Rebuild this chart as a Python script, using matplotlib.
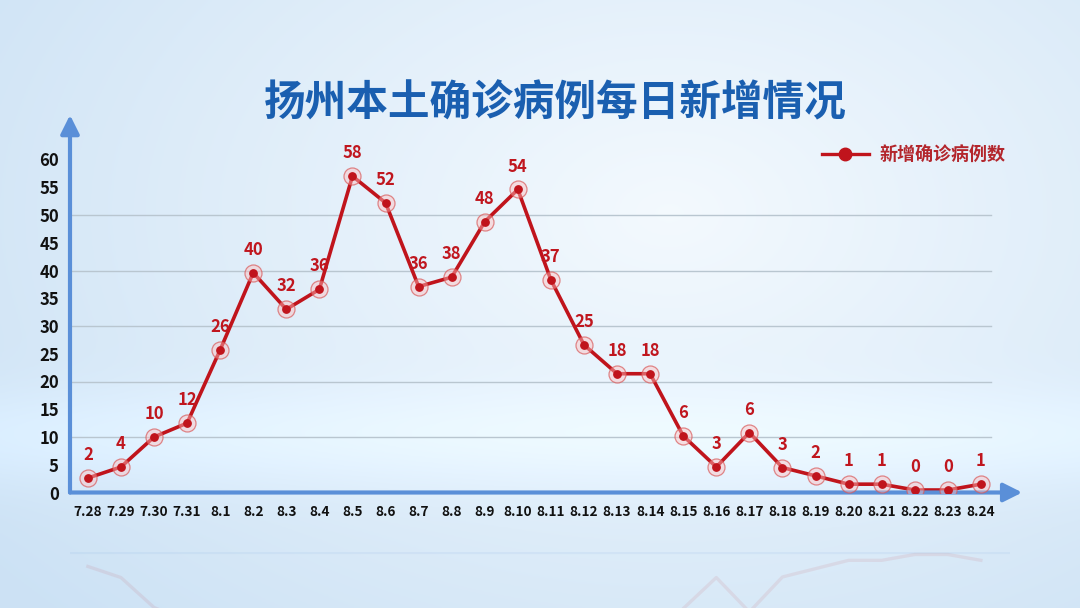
import numpy as np
import matplotlib.pyplot as plt
from matplotlib.lines import Line2D

plt.rcParams['font.family'] = ['Noto Sans CJK SC', 'DejaVu Sans']

# dates on the x axis
dates = ['7.28', '7.29', '7.30', '7.31', '8.1', '8.2', '8.3', '8.4', '8.5', '8.6',
         '8.7', '8.8', '8.9', '8.10', '8.11', '8.12', '8.13', '8.14', '8.15', '8.16',
         '8.17', '8.18', '8.19', '8.20', '8.21', '8.22', '8.23', '8.24']
# new confirmed cases (the numbers written on the chart)
new_cases = [2, 4, 10, 12, 26, 40, 32, 36, 58, 52, 36, 38, 48, 54, 37, 25, 18, 18,
             6, 3, 6, 3, 2, 1, 1, 0, 0, 1]
# heights at which the reference actually draws each point
drawn_height = [2.6, 4.6, 10.0, 12.5, 25.7, 39.6, 33.0, 36.6, 57.0, 52.2, 37.1, 38.8,
                48.8, 54.6, 38.3, 26.6, 21.4, 21.4, 10.2, 4.6, 10.8, 4.5, 3.0, 1.5,
                1.5, 0.45, 0.45, 1.5]
y_ticks = list(range(0, 65, 5))
grid_levels = [10, 20, 30, 40, 50]

title = '扬州本土确诊病例每日新增情况'
legend_label = '新增确诊病例数'

W, H = 1080, 608
fig = plt.figure(figsize=(W / 100, H / 100), dpi=100)

# background gradient
bg = fig.add_axes([0, 0, 1, 1], zorder=-10)
yy, xx = np.mgrid[0:1:300j, 0:1:540j]
d = np.sqrt(((xx - 0.62) / 0.8) ** 2 + ((yy - 0.35) / 0.95) ** 2)
d = np.clip(d, 0, 1)
inner = np.array([0.955, 0.978, 0.996])
outer = np.array([0.80, 0.885, 0.96])
img = inner[None, None, :] * (1 - d[..., None]) + outer[None, None, :] * d[..., None]
# lighter horizon band near the bottom
band = np.exp(-((yy - 0.72) / 0.08) ** 2)[..., None] * 0.04
img = np.clip(img + band, 0, 1)
bg.imshow(img, aspect='auto', extent=[0, 1, 1, 0])
bg.set_xlim(0, 1)
bg.set_ylim(1, 0)
bg.axis('off')

# main axes, placed in pixels
x0, x1 = 70, 1010
y_base, y_top = 492.5, 115
ax = fig.add_axes([x0 / W, (H - y_base) / H, (x1 - x0) / W, (y_base - y_top) / H])
ax.patch.set_alpha(0)
n = len(dates)
xs = np.arange(n)
xlim = (-0.54, 27.88)
ax.set_xlim(*xlim)
ax.set_ylim(0, (y_base - y_top) / 5.55)

for g in grid_levels:
    ax.plot([xlim[0], 27.3], [g, g], color='#b9c6d0', lw=1.0, zorder=1)

line_red = '#c0141c'
ax.plot(xs, drawn_height, color=line_red, lw=2.6, zorder=3, solid_joinstyle='miter')
ax.scatter(xs, drawn_height, s=150, facecolor=(1, 0.75, 0.75, 0.45),
           edgecolor=(0.85, 0.35, 0.35, 0.7), lw=0.9, zorder=4)
ax.scatter(xs, drawn_height, s=28, color=line_red, zorder=5)

for x, h, v in zip(xs, drawn_height, new_cases):
    ax.annotate(str(v), (x, h), xytext=(0, 10), textcoords='offset points',
                ha='center', va='bottom', fontsize=12, fontweight='bold',
                color='#c0161e', zorder=6)

# axes with arrows
axis_blue = '#5a8fd8'
for s in ax.spines.values():
    s.set_visible(False)
ax.annotate('', xy=(0, 1.0), xytext=(0, 0), xycoords='axes fraction',
            arrowprops=dict(arrowstyle='-|>', color=axis_blue, lw=3,
                            mutation_scale=28, shrinkA=0, shrinkB=0))
ax.annotate('', xy=(1.013, 0), xytext=(0, 0), xycoords='axes fraction',
            arrowprops=dict(arrowstyle='-|>', color=axis_blue, lw=3,
                            mutation_scale=28, shrinkA=0, shrinkB=0))

ax.set_yticks(y_ticks)
ax.set_yticklabels([str(t) for t in y_ticks], fontsize=12, fontweight='bold',
                   color='#111111')
ax.set_xticks(xs)
ax.set_xticklabels(dates, fontsize=9.8, fontweight='bold', color='#111111')
ax.tick_params(axis='both', length=0)
ax.tick_params(axis='y', pad=8)
ax.tick_params(axis='x', pad=9)

# faint reflection below the axis
rax = fig.add_axes([x0 / W, 0, (x1 - x0) / W, (H - 552) / H])
rax.patch.set_alpha(0)
rax.set_xlim(*xlim)
rax.set_ylim(56 / 5.55, 0)
rax.plot(xs, drawn_height, color=line_red, lw=2.4, alpha=0.08)
rax.axhline(0, color=axis_blue, lw=3, alpha=0.08)
rax.axis('off')

# title
fig.text(555 / W, 1 - 103 / H, title, ha='center', va='center', fontsize=30,
         fontweight='bold', color='#1a5fb0')

# legend
handle = Line2D([], [], color=line_red, lw=2.4, marker='o', markersize=9)
ax.legend([handle], [legend_label], loc='center left',
          bbox_to_anchor=(822 / W, 1 - 155 / H), bbox_transform=fig.transFigure,
          frameon=False, borderpad=0, borderaxespad=0, handlelength=2.6,
          handletextpad=0.6, prop={'size': 13, 'weight': 'bold'},
          labelcolor='#b3262c')

fig.savefig('out.png', dpi=100)
